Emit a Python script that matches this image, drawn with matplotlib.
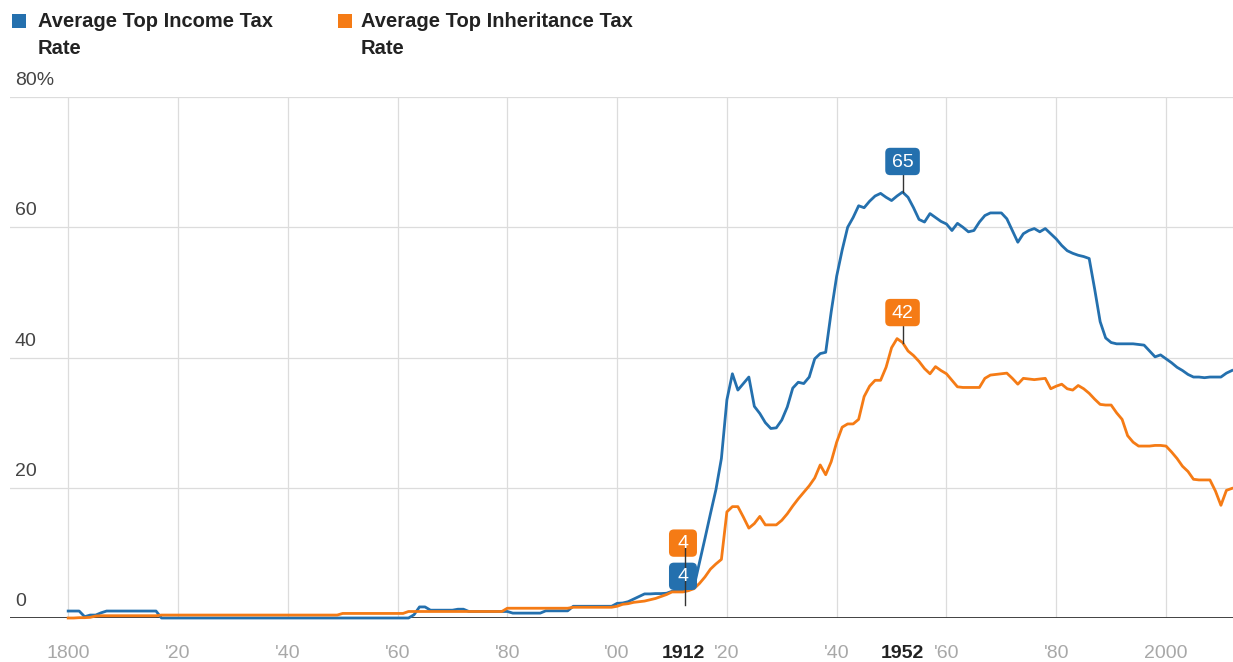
import numpy as np
import matplotlib
matplotlib.use("Agg")
import matplotlib.pyplot as plt
import matplotlib.transforms as mtransforms
from matplotlib.patches import FancyBboxPatch, Rectangle

plt.rcParams["font.family"] = ["Liberation Sans", "DejaVu Sans"]

# ── Data (one value per year) ─────────────────────────────
YEARS = np.arange(1800, 2013)

INCOME = [
    1.07, 1.07, 1.07, 0.2, 0.45, 0.45, 0.8, 1.07, 1.07, 1.07,      # 1800s
    1.07, 1.07, 1.07, 1.07, 1.07, 1.07, 1.07, 0, 0, 0,             # 1810s
    0, 0, 0, 0, 0, 0, 0, 0, 0, 0,                                  # 1820s
    0, 0, 0, 0, 0, 0, 0, 0, 0, 0,                                  # 1830s
    0, 0, 0, 0, 0, 0, 0, 0, 0, 0,                                  # 1840s
    0, 0, 0, 0, 0, 0, 0, 0, 0, 0,                                  # 1850s
    0, 0, 0, 0.5, 1.7, 1.7, 1.2, 1.2, 1.2, 1.2,                    # 1860s
    1.2, 1.35, 1.35, 1.0, 1.0, 1.0, 1.0, 1.0, 1.0, 1.0,            # 1870s
    1.0, 0.75, 0.75, 0.75, 0.75, 0.75, 0.75, 1.1, 1.1, 1.1,        # 1880s
    1.1, 1.1, 1.8, 1.8, 1.8, 1.8, 1.8, 1.8, 1.8, 1.8,              # 1890s
    2.25, 2.3, 2.5, 2.9, 3.3, 3.7, 3.7, 3.75, 3.75, 3.8,           # 1900s
    4.1, 4.1, 4.1, 4.3, 4.8, 8.5, 12.2, 16.0, 19.7, 24.5,          # 1910s
    33.5, 37.5, 35.0, 36.0, 37.0, 32.5, 31.4, 30.0, 29.1, 29.2,    # 1920s
    30.4, 32.4, 35.3, 36.2, 36.0, 37.0, 39.8, 40.6, 40.8, 47.0,    # 1930s
    52.5, 56.5, 60.0, 61.5, 63.3, 63.0, 64.0, 64.8, 65.2, 64.6,    # 1940s
    64.1, 64.8, 65.4, 64.6, 63.0, 61.2, 60.8, 62.1, 61.5, 60.9,    # 1950s
    60.5, 59.5, 60.6, 60.0, 59.3, 59.5, 60.8, 61.8, 62.2, 62.2,    # 1960s
    62.2, 61.3, 59.5, 57.7, 59.0, 59.5, 59.8, 59.3, 59.8, 59.0,    # 1970s
    58.2, 57.2, 56.4, 56.0, 55.7, 55.5, 55.2, 50.5, 45.5, 43.0,    # 1980s
    42.3, 42.1, 42.1, 42.1, 42.1, 42.0, 41.9, 41.0, 40.1, 40.4,    # 1990s
    39.8, 39.2, 38.5, 38.0, 37.4, 37.0, 37.0, 36.9, 37.0, 37.0,    # 2000s
    37.0, 37.6, 38.0,                                              # 2010s
]

INHERITANCE = [
    0, 0, 0.05, 0.05, 0.1, 0.3, 0.35, 0.35, 0.35, 0.35,            # 1800s
    0.35, 0.35, 0.35, 0.35, 0.35, 0.35, 0.35, 0.45, 0.45, 0.45,    # 1810s
    0.45, 0.45, 0.45, 0.45, 0.45, 0.45, 0.45, 0.45, 0.45, 0.45,    # 1820s
    0.45, 0.45, 0.45, 0.45, 0.45, 0.45, 0.45, 0.45, 0.45, 0.45,    # 1830s
    0.45, 0.45, 0.45, 0.45, 0.45, 0.45, 0.45, 0.45, 0.45, 0.45,    # 1840s
    0.7, 0.7, 0.7, 0.7, 0.7, 0.7, 0.7, 0.7, 0.7, 0.7,              # 1850s
    0.7, 0.7, 1.0, 1.0, 1.0, 1.0, 1.0, 1.0, 1.0, 1.0,              # 1860s
    1.0, 1.0, 1.0, 1.0, 1.0, 1.0, 1.0, 1.0, 1.0, 1.0,              # 1870s
    1.5, 1.5, 1.5, 1.5, 1.5, 1.5, 1.5, 1.5, 1.5, 1.5,              # 1880s
    1.5, 1.5, 1.65, 1.65, 1.65, 1.65, 1.65, 1.65, 1.65, 1.65,      # 1890s
    1.8, 2.1, 2.2, 2.4, 2.5, 2.6, 2.8, 3.0, 3.3, 3.6,              # 1900s
    4.0, 4.0, 4.0, 4.2, 4.5, 5.3, 6.3, 7.5, 8.3, 9.0,              # 1910s
    16.3, 17.1, 17.1, 15.5, 13.8, 14.5, 15.6, 14.3, 14.3, 14.3,    # 1920s
    15.0, 16.0, 17.2, 18.3, 19.3, 20.3, 21.5, 23.5, 22.0, 24.0,    # 1930s
    27.0, 29.3, 29.8, 29.8, 30.5, 34.0, 35.6, 36.5, 36.5, 38.5,    # 1940s
    41.5, 42.9, 42.3, 41.0, 40.3, 39.4, 38.3, 37.5, 38.6, 38.0,    # 1950s
    37.5, 36.5, 35.5, 35.4, 35.4, 35.4, 35.4, 36.8, 37.3, 37.4,    # 1960s
    37.5, 37.6, 36.8, 35.9, 36.8, 36.7, 36.6, 36.7, 36.8, 35.2,    # 1970s
    35.6, 35.9, 35.2, 35.0, 35.7, 35.2, 34.5, 33.6, 32.8, 32.7,    # 1980s
    32.7, 31.5, 30.5, 28.0, 27.0, 26.4, 26.4, 26.4, 26.5, 26.5,    # 1990s
    26.4, 25.5, 24.5, 23.3, 22.5, 21.3, 21.2, 21.2, 21.2, 19.5,    # 2000s
    17.3, 19.6, 19.9,                                              # 2010s
]

SERIES_NAMES = ["Average Top Income Tax\nRate", "Average Top Inheritance Tax\nRate"]
Y_TICKS = [0, 20, 40, 60, 80]
Y_LABELS = ["0", "20", "40", "60", "80%"]
X_TICKS = [1800, 1820, 1840, 1860, 1880, 1900, 1920, 1940, 1960, 1980, 2000]
X_LABELS = ["1800", "'20", "'40", "'60", "'80", "'00", "'20", "'40", "'60", "'80", "2000"]
HIGHLIGHT_YEARS = [1912, 1952]

# ── Style ─────────────────────────────────────────────────
BLUE = "#2470ae"
ORANGE = "#f57b15"
GRID = "#dcdcdc"
W, H = 1233, 662

fig = plt.figure(figsize=(W / 100, H / 100), dpi=100)
ax = fig.add_axes([10 / W, 44 / H, 1223 / W, 521 / H])
ax.set_xlim(1789.4, 2012.2)
ax.set_ylim(0, 80)
ax.axis("off")

for v in Y_TICKS[1:]:
    ax.axhline(v, color=GRID, lw=0.9, zorder=0)
for x in X_TICKS:
    ax.axvline(x, color=GRID, lw=0.9, zorder=0)
ax.axhline(0, color="#333333", lw=1.3, zorder=1)

income = np.array(INCOME)
inher = np.array(INHERITANCE)
ax.plot(YEARS, income, color=BLUE, lw=2.0, zorder=3, clip_on=False,
        solid_joinstyle="round")
ax.plot(YEARS, inher, color=ORANGE, lw=2.0, zorder=4, clip_on=False,
        solid_joinstyle="round")

# ── Axis labels ───────────────────────────────────────────
ytr = mtransforms.blended_transform_factory(ax.transAxes, ax.transData)
for v, lab in zip(Y_TICKS, Y_LABELS):
    ax.text(0.004, v + 2.5, lab, transform=ytr, ha="left", va="center",
            fontsize=14, color="#444444")

xtr = mtransforms.blended_transform_factory(ax.transData, ax.transAxes)
for x, lab in zip(X_TICKS, X_LABELS):
    ax.text(x, -0.068, lab, transform=xtr, ha="center", va="center",
            fontsize=14, color="#a8a8a8", clip_on=False)
for x in HIGHLIGHT_YEARS:
    ax.text(x, -0.068, str(x), transform=xtr, ha="center", va="center",
            fontsize=14, color="#222222", fontweight="bold", clip_on=False)

# ── Annotations ───────────────────────────────────────────
ASPECT = 5.49 / 6.51


def label_box(x, yc, text, color, w):
    h = 4.2
    box = FancyBboxPatch((x - w / 2, yc - h / 2), w, h,
                         boxstyle="round,pad=0,rounding_size=0.9",
                         mutation_aspect=ASPECT, fc=color, ec="none",
                         zorder=6, clip_on=False)
    ax.add_patch(box)
    ax.text(x, yc - 0.1, text, ha="center", va="center", color="white",
            fontsize=14, zorder=8)


i1952 = list(YEARS).index(1952)
i1912 = list(YEARS).index(1912)

# 1952 peaks
ax.plot([1952, 1952], [income[i1952], 68.5], color="#333333", lw=1, zorder=5)
label_box(1952, 70.1, f"{income[i1952]:.0f}", BLUE, 6.3)
ax.plot([1952, 1952], [inher[i1952], 45.3], color="#333333", lw=1, zorder=5)
label_box(1952, 46.9, f"{inher[i1952]:.0f}", ORANGE, 6.3)

# 1912 (stacked labels)
label_box(1912, 6.4, f"{income[i1912]:.0f}", BLUE, 5.1)
label_box(1912, 11.5, f"{inher[i1912]:.0f}", ORANGE, 5.1)
ax.plot([1912.4, 1912.4], [2.0, 10.7], color="#333333", lw=1, zorder=7)

# ── Legend ────────────────────────────────────────────────
for (x0, tx), color, name in zip([(12, 38), (338, 361)], [BLUE, ORANGE], SERIES_NAMES):
    fig.patches.append(Rectangle((x0 / W, 1 - 28 / H), 14 / W, 14 / H,
                                 transform=fig.transFigure, fc=color, ec="none"))
    fig.text(tx / W, 1 - 12 / H, name, ha="left", va="top", fontsize=14.5,
             fontweight="bold", color="#222222", linespacing=1.5)

fig.savefig("out.png", dpi=100, facecolor="white")
